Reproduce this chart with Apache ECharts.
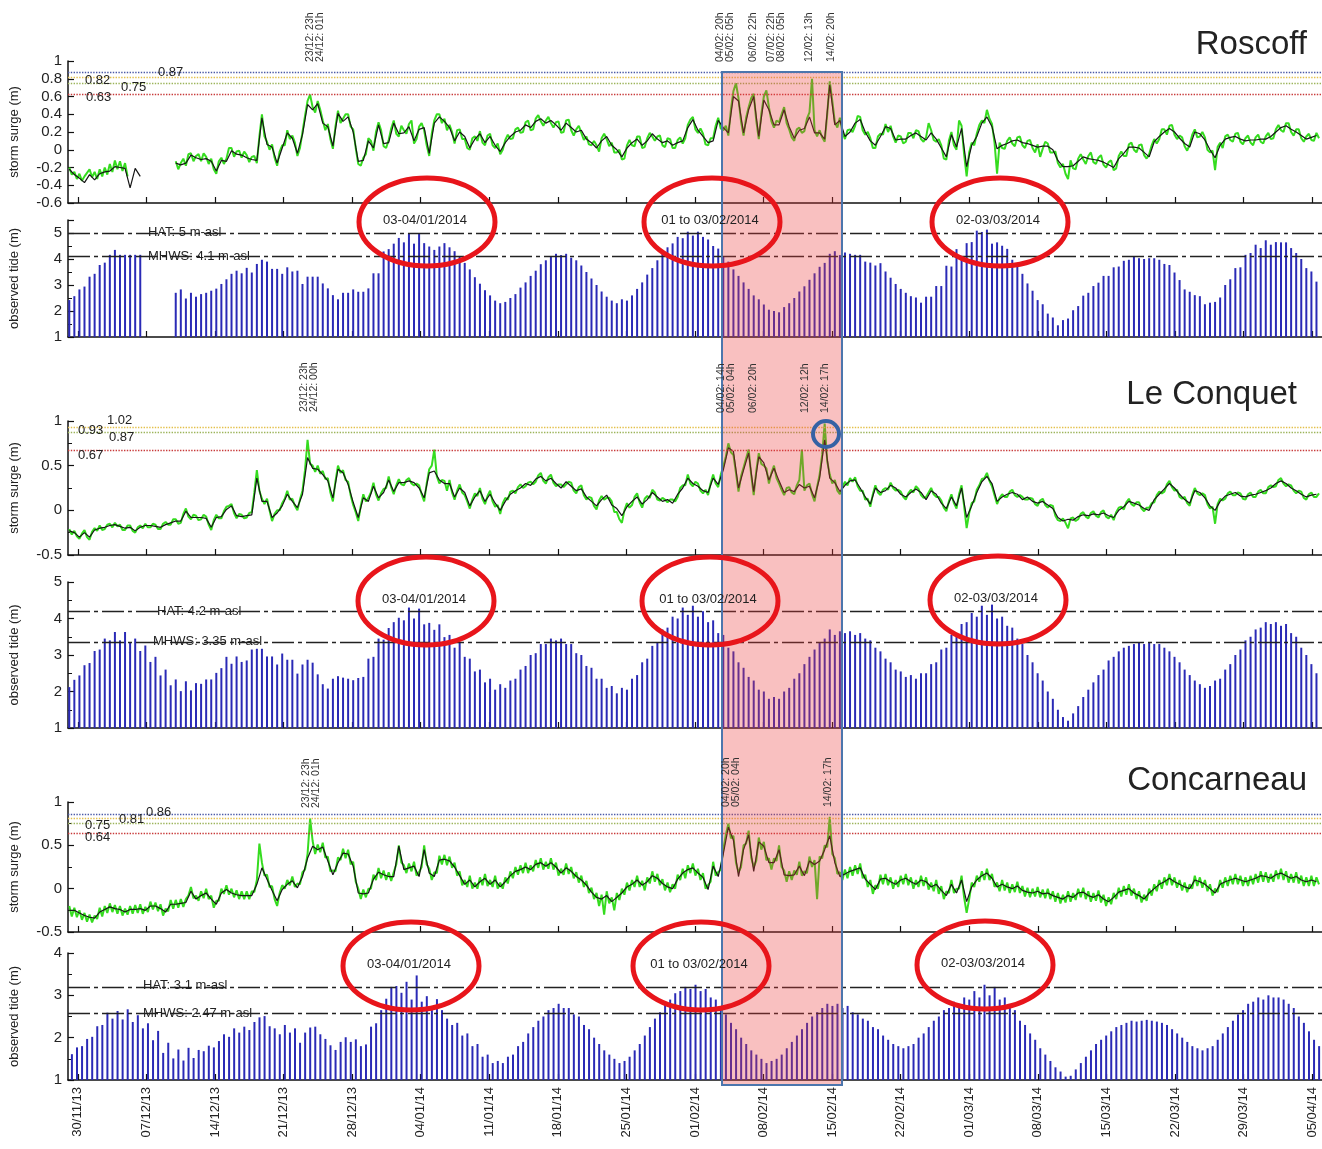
<!DOCTYPE html>
<html>
<head>
<meta charset="utf-8">
<title>Storm surge and observed tide - Roscoff, Le Conquet, Concarneau</title>
<script src="https://cdn.jsdelivr.net/npm/echarts@6/dist/echarts.min.js"></script>
<style>
  html, body { margin: 0; padding: 0; background: #fff; }
  #chart { width: 1322px; height: 1149px; }
</style>
</head>
<body>
<div id="chart"></div>
<script>
// days since 30/11/2013, one tick per week
var weekTicks = [0, 7, 14, 21, 28, 35, 42, 49, 56, 63, 70, 77, 84, 91, 98, 105, 112, 119, 126];
var tideStep = 0.5175;          // days between two high tides
var surgeStart = -0.87;         // day of first surge value
var tideStart = [-0.87, -0.87, -0.6];

// ---------- Roscoff ----------
var roscoffSurge = [-0.22,-0.28,-0.32,-0.37,-0.28,-0.34,-0.27,-0.25,-0.24,-0.19,-0.20,-0.21,-0.43,-0.21,-0.30,
null,null,null,null,null,null,
-0.15,-0.17,-0.15,-0.06,-0.09,-0.11,-0.10,-0.13,-0.24,-0.12,
-0.13,-0.01,-0.05,-0.06,-0.09,-0.11,-0.12,0.36,0.06,0.03,
-0.15,0.02,0.19,0.13,-0.04,0.17,0.51,0.45,0.52,0.30,
0.26,0.04,0.41,0.32,0.37,0.20,-0.13,-0.12,0.10,0.02,
0.28,0.07,0.08,0.30,0.18,0.19,0.26,0.10,0.23,0.25,
-0.04,0.30,0.37,0.32,0.25,0.10,0.20,0.15,0.02,0.12,
0.18,0.08,0.15,0.05,-0.02,0.08,0.15,0.20,0.22,0.28,
0.25,0.32,0.35,0.30,0.33,0.28,0.22,0.30,0.25,0.20,
0.22,0.12,0.08,0.02,0.10,0.15,0.05,0.00,-0.08,0.02,
0.08,0.12,0.05,0.10,0.18,0.12,0.08,0.10,0.05,0.08,
0.10,0.25,0.34,0.22,0.15,0.08,0.10,0.33,0.25,0.19,
0.60,0.55,0.19,0.45,0.60,0.15,0.56,0.45,0.28,0.28,
0.45,0.26,0.13,0.22,0.24,0.37,0.19,0.19,0.12,0.73,
0.28,0.33,0.15,0.20,0.30,0.34,0.20,0.10,0.05,0.15,
0.26,0.24,0.11,0.12,0.12,0.16,0.19,0.15,0.11,0.19,
0.12,0.02,-0.08,0.17,0.03,0.24,-0.19,0.05,0.15,0.30,
0.37,0.26,0.01,0.05,0.07,0.10,0.11,0.08,0.07,0.05,
0.03,0.04,0.04,0.00,-0.12,-0.19,-0.19,-0.18,-0.13,-0.08,
-0.10,-0.11,-0.12,-0.14,-0.17,-0.20,-0.10,-0.04,0.03,0.03,
0.02,-0.03,-0.08,0.09,0.15,0.20,0.24,0.20,0.13,0.07,
0.03,0.20,0.18,0.11,0.00,-0.09,0.05,0.12,0.14,0.15,
0.12,0.10,0.11,0.11,0.12,0.12,0.15,0.20,0.25,0.27,
0.23,0.20,0.16,0.12,0.14,0.16];

var roscoffSurgeRaw = [-0.20,-0.28,-0.25,-0.33,-0.27,-0.35,-0.30,-0.26,-0.22,-0.31,-0.25,-0.33,-0.22,-0.30,-0.20,-0.28,-0.16,-0.25,-0.12,-0.22,-0.13,-0.24,-0.15,-0.30,
null,null,null,null,null,null,null,null,null,null,null,null,null,null,null,null,null,null,
-0.13,-0.22,-0.15,-0.10,-0.18,-0.05,-0.04,-0.13,-0.07,-0.05,-0.13,-0.04,-0.08,-0.16,-0.10,-0.22,-0.27,-0.13,-0.09,-0.16,
-0.10,0.02,0.02,-0.08,-0.02,-0.01,-0.09,-0.02,-0.06,-0.14,-0.08,-0.07,-0.15,0.15,0.40,0.15,0.09,0.00,0.06,-0.09,
-0.18,-0.02,0.05,0.05,0.22,0.12,0.16,0.08,-0.07,0.02,0.20,0.38,0.55,0.62,0.48,0.42,0.55,0.45,0.33,0.22,
0.29,0.12,0.01,0.26,0.44,0.30,0.35,0.40,0.40,0.26,0.23,0.02,-0.16,-0.18,-0.09,-0.05,0.13,0.10,-0.01,0.20,
0.31,0.22,0.04,0.02,0.11,0.24,0.33,0.18,0.15,0.27,0.22,0.18,0.29,0.33,0.07,0.12,0.26,0.30,0.22,0.05,
-0.07,0.18,0.33,0.40,0.40,0.30,0.35,0.22,0.28,0.20,0.07,0.22,0.23,0.12,0.12,0.02,0.00,0.13,0.15,0.10,
0.21,0.08,0.05,0.16,0.18,0.05,0.02,0.07,-0.05,0.00,0.11,0.17,0.12,0.13,0.23,0.25,0.19,0.20,0.31,0.33,
0.22,0.23,0.35,0.39,0.32,0.27,0.33,0.37,0.30,0.25,0.31,0.32,0.19,0.20,0.33,0.34,0.22,0.16,0.23,0.27,
0.19,0.11,0.15,0.06,0.05,0.10,0.05,-0.02,0.13,0.18,0.12,0.04,0.08,-0.03,-0.03,0.00,-0.11,-0.10,0.05,0.11,
0.05,0.04,0.15,0.15,0.02,0.03,0.13,0.19,0.15,0.10,0.15,0.16,0.05,0.03,0.13,0.12,0.02,0.02,0.11,0.14,
0.07,0.13,0.28,0.34,0.37,0.23,0.19,0.24,0.18,0.06,0.05,0.13,0.13,0.27,0.36,0.24,0.22,0.27,0.16,0.45,
0.66,0.75,0.58,0.32,0.16,0.36,0.48,0.58,0.63,0.33,0.12,0.40,0.60,0.67,0.48,0.32,0.25,0.33,0.31,0.40,
0.48,0.30,0.23,0.14,0.10,0.23,0.25,0.19,0.21,0.35,0.42,0.80,0.22,0.15,0.22,0.14,0.09,0.40,0.77,0.55,
0.31,0.25,0.36,0.20,0.12,0.22,0.23,0.20,0.27,0.38,0.37,0.22,0.17,0.20,0.13,0.02,0.02,0.15,0.18,0.17,
0.29,0.20,0.27,0.15,0.08,0.16,0.15,0.07,0.09,0.19,0.19,0.13,0.22,0.21,0.12,0.09,0.14,0.30,0.22,0.11,
0.09,0.12,0.05,-0.10,-0.11,0.10,0.20,0.05,0.00,0.33,0.27,-0.05,-0.30,-0.03,0.08,0.05,0.18,0.28,0.33,0.30,
0.45,0.35,0.29,0.08,-0.27,0.08,0.02,0.01,0.10,0.14,0.07,0.04,0.14,0.15,0.05,0.02,0.10,0.11,0.02,-0.03,
0.06,-0.08,0.01,0.09,0.07,-0.03,-0.03,-0.02,-0.15,-0.20,-0.16,-0.27,-0.33,-0.12,-0.21,-0.22,-0.10,-0.05,-0.11,-0.16,
-0.07,-0.03,-0.14,-0.16,-0.09,-0.06,-0.17,-0.20,-0.14,-0.12,-0.23,-0.21,-0.07,-0.02,-0.07,-0.07,0.06,0.08,0.00,-0.03,
0.05,0.06,-0.06,-0.10,-0.05,0.05,0.12,0.07,0.12,0.23,0.23,0.17,0.27,0.28,0.17,0.12,0.16,0.14,0.04,-0.01,
0.06,0.17,0.23,0.14,0.15,0.20,0.14,0.00,-0.03,-0.01,-0.23,0.03,0.08,0.02,0.15,0.17,0.11,0.09,0.18,0.19,
0.09,0.06,0.13,0.16,0.08,0.05,0.14,0.17,0.09,0.07,0.15,0.19,0.12,0.13,0.23,0.28,0.22,0.20,0.30,0.30,
0.20,0.16,0.23,0.23,0.13,0.09,0.15,0.18,0.11,0.10,0.19,0.13];

var roscoffTide = [2.42,2.57,2.83,2.94,3.32,3.43,3.77,3.86,4.16,4.35,4.16,4.16,4.16,4.16,4.16,
null,null,null,null,null,null,
2.70,2.83,2.48,2.70,2.55,2.65,2.70,2.78,2.86,3.04,
3.22,3.43,3.55,3.45,3.66,3.48,3.81,3.97,3.90,3.62,
3.62,3.43,3.68,3.52,3.55,3.04,3.32,3.32,3.32,3.06,
2.87,2.61,2.45,2.70,2.70,2.83,2.74,2.74,2.87,3.45,
3.45,4.29,4.38,4.59,4.81,4.64,5.00,4.59,5.00,4.61,
4.48,4.35,4.48,4.61,
4.45,4.30,4.10,3.85,3.60,3.30,3.05,2.80,2.60,2.40,
2.30,2.35,2.50,2.65,2.90,3.10,3.35,3.55,3.80,3.95,
4.10,4.20,4.15,4.20,4.05,3.95,3.75,3.50,3.25,3.00,
2.75,2.55,2.40,2.30,2.45,2.40,2.60,2.85,3.10,3.40,
3.65,3.95,4.20,4.45,4.60,4.85,4.80,5.05,4.90,5.05,
4.85,4.75,4.50,4.40,4.10,3.90,3.60,3.35,3.10,2.85,
2.60,2.45,2.25,2.05,2.00,1.95,2.15,2.30,2.50,2.75,
2.95,3.20,3.45,3.70,3.85,4.20,4.30,4.15,4.25,4.20,
4.16,4.16,3.90,3.86,3.75,3.84,3.52,3.28,3.04,2.85,
2.70,2.57,2.52,2.32,2.55,2.55,2.96,2.96,3.74,3.71,
4.38,4.07,4.61,4.65,5.09,5.04,5.13,4.59,4.64,4.51,
4.39,3.97,3.74,3.43,3.06,2.78,2.42,2.26,1.90,1.75,
1.45,1.65,1.71,2.03,2.19,2.59,2.70,2.96,3.09,3.35,
3.35,3.68,3.71,3.93,3.97,4.10,4.03,4.00,4.03,4.03,
3.97,3.81,3.77,3.48,3.19,2.83,2.74,2.61,2.57,2.26,
2.32,2.35,2.52,3.00,3.22,3.65,3.68,4.16,4.23,4.55,
4.42,4.72,4.55,4.65,4.64,4.64,4.42,4.23,4.00,3.65,
3.52,3.13];

// ---------- Le Conquet ----------
var conquetSurge = [-0.23,-0.25,-0.30,-0.25,-0.30,-0.22,-0.20,-0.19,-0.17,-0.16,
-0.18,-0.20,-0.19,-0.23,-0.19,-0.17,-0.17,-0.18,-0.19,-0.16,
-0.14,-0.12,-0.12,-0.01,-0.08,-0.08,-0.08,-0.09,-0.19,-0.08,
-0.07,0.01,0.05,-0.06,-0.07,-0.06,-0.05,0.36,0.10,0.10,
-0.08,-0.03,0.05,0.18,0.10,0.03,0.18,0.59,0.47,0.46,
0.40,0.33,0.14,0.46,0.42,0.29,0.09,-0.08,0.14,0.10,
0.27,0.14,0.20,0.34,0.21,0.31,0.31,0.33,0.31,0.25,
0.14,0.42,0.44,0.34,0.30,
0.30,0.15,0.25,0.20,0.05,0.15,0.22,0.10,0.18,0.08,
0.00,0.10,0.18,0.22,0.25,0.30,0.28,0.35,0.38,0.33,
0.36,0.30,0.25,0.32,0.27,0.22,0.24,0.15,0.10,0.05,
0.12,0.17,0.06,0.02,-0.06,0.04,0.10,0.15,0.07,0.12,
0.20,0.15,0.10,0.12,0.08,0.18,
0.25,0.36,0.30,0.27,0.22,0.20,0.36,0.29,0.45,0.70,
0.66,0.25,0.45,0.64,0.21,0.60,0.53,0.34,0.47,0.33,
0.20,0.23,0.21,0.29,0.25,0.27,0.14,0.36,0.79,0.36,
0.31,0.21,0.28,0.33,0.34,0.25,0.15,0.07,0.25,0.20,
0.22,0.28,0.25,0.18,0.15,0.20,0.24,0.20,0.12,0.22,
0.18,0.08,0.02,0.15,0.05,0.25,-0.08,0.05,0.20,0.32,
0.38,0.30,0.10,0.15,0.18,0.20,0.18,0.12,0.15,0.10,
0.08,0.10,0.06,0.02,-0.08,-0.12,-0.10,-0.11,-0.07,-0.05,
-0.06,-0.04,-0.05,-0.03,-0.06,-0.08,0.00,0.04,0.10,0.08,
0.06,0.02,0.00,0.12,0.18,0.24,0.30,0.25,0.18,0.12,
0.08,0.22,0.20,0.14,0.05,0.00,0.10,0.16,0.18,0.20,
0.16,0.15,0.17,0.18,0.20,0.22,0.25,0.30,0.33,0.30,
0.25,0.22,0.18,0.15,0.17,0.18];

var conquetSurgeRaw = [-0.21,-0.27,-0.23,-0.29,-0.32,-0.26,-0.22,-0.30,-0.33,-0.24,-0.20,-0.23,-0.17,-0.22,-0.21,-0.16,-0.15,-0.19,-0.14,-0.18,
-0.16,-0.22,-0.22,-0.17,-0.17,-0.23,-0.25,-0.19,-0.17,-0.20,-0.15,-0.19,-0.19,-0.15,-0.16,-0.21,-0.21,-0.15,-0.13,-0.16,
-0.16,-0.10,-0.10,-0.15,-0.14,-0.04,0.02,-0.07,-0.10,-0.05,-0.06,-0.11,-0.10,-0.05,-0.07,-0.16,-0.22,-0.11,-0.05,-0.09,
-0.09,-0.01,0.04,0.05,0.07,-0.03,-0.09,-0.04,-0.05,-0.09,-0.08,-0.03,-0.02,0.20,0.45,0.22,0.13,0.07,0.13,0.00,
-0.12,-0.04,0.00,0.00,0.08,0.13,0.22,0.12,0.13,0.05,0.00,0.12,0.22,0.45,0.79,0.52,0.50,0.43,0.50,0.41,
0.44,0.35,0.36,0.20,0.10,0.32,0.50,0.42,0.45,0.34,0.32,0.17,0.06,-0.02,-0.12,0.05,0.18,0.10,0.14,0.20,
0.31,0.18,0.11,0.19,0.24,0.25,0.38,0.26,0.18,0.28,0.35,0.29,0.28,0.34,0.36,0.30,0.28,0.30,0.28,0.18,
0.10,0.30,0.46,0.50,0.68,0.38,0.30,0.34,0.33,0.22,0.34,0.20,0.12,0.22,0.29,0.20,0.17,0.10,0.02,0.12,
0.19,0.16,0.25,0.13,0.07,0.16,0.22,0.10,0.04,0.06,-0.04,0.08,0.14,0.12,0.21,0.22,0.19,0.26,0.29,0.25,
0.27,0.31,0.32,0.29,0.32,0.39,0.42,0.33,0.30,0.37,0.40,0.31,0.27,0.29,0.29,0.26,0.29,0.32,0.31,0.22,
0.19,0.26,0.28,0.17,0.12,0.15,0.14,0.05,0.01,0.11,0.16,0.12,0.14,0.14,0.10,-0.02,-0.02,-0.10,-0.14,0.00,
0.08,0.03,0.06,0.15,0.19,0.09,0.03,0.13,0.16,0.14,0.23,0.20,0.12,0.11,0.14,0.12,0.09,0.12,0.12,0.10,
0.15,0.25,0.28,0.28,0.40,0.30,0.27,0.32,0.30,0.22,0.19,0.23,0.17,0.30,0.40,0.30,0.26,0.40,0.49,0.60,
0.75,0.65,0.62,0.42,0.21,0.38,0.48,0.58,0.68,0.40,0.17,0.44,0.64,0.52,0.50,0.47,0.30,0.42,0.50,0.36,
0.30,0.23,0.17,0.25,0.26,0.20,0.18,0.28,0.34,0.68,0.22,0.28,0.30,0.18,0.10,0.26,0.40,0.62,0.97,0.55,
0.40,0.30,0.34,0.22,0.18,0.26,0.32,0.28,0.36,0.32,0.37,0.27,0.22,0.22,0.12,0.13,0.04,0.18,0.28,0.20,
0.17,0.23,0.25,0.23,0.31,0.25,0.22,0.23,0.21,0.15,0.12,0.19,0.23,0.20,0.27,0.24,0.17,0.14,0.15,0.20,
0.25,0.18,0.15,0.15,0.11,0.03,-0.01,0.10,0.18,0.08,0.02,0.18,0.28,0.05,-0.20,-0.03,0.08,0.10,0.23,0.28,
0.35,0.36,0.42,0.33,0.27,0.17,0.07,0.14,0.18,0.15,0.15,0.21,0.23,0.17,0.15,0.17,0.15,0.12,0.12,0.14,
0.13,0.07,0.05,0.11,0.13,0.06,0.03,0.06,0.05,-0.06,-0.11,-0.12,-0.09,-0.14,-0.20,-0.09,-0.08,-0.12,-0.10,-0.04,
-0.02,-0.07,-0.09,-0.03,-0.01,-0.06,-0.08,-0.02,0.00,-0.07,-0.09,-0.05,-0.11,-0.02,0.03,0.04,0.01,0.09,0.13,0.07,
0.05,0.09,0.09,0.02,-0.01,0.03,0.03,0.08,0.09,0.17,0.21,0.19,0.21,0.29,0.33,0.26,0.22,0.23,0.15,0.13,
0.15,0.08,0.05,0.17,0.25,0.19,0.17,0.19,0.17,0.07,0.02,0.04,-0.15,0.07,0.13,0.11,0.13,0.19,0.21,0.17,
0.17,0.20,0.19,0.13,0.12,0.18,0.20,0.15,0.15,0.21,0.23,0.19,0.19,0.26,0.28,0.26,0.27,0.34,0.36,0.30,
0.27,0.29,0.28,0.22,0.19,0.22,0.21,0.14,0.12,0.18,0.20,0.15,0.15,0.19];

var conquetTide = [2.12,2.32,2.44,2.72,2.78,3.11,3.15,3.45,3.40,3.63,
3.40,3.63,3.33,3.45,3.11,3.26,2.81,2.95,2.44,2.60,
2.17,2.33,2.01,2.28,2.03,2.23,2.21,2.33,2.33,2.51,
2.64,2.95,2.76,2.96,2.81,2.85,3.15,3.17,3.17,2.96,
2.96,2.74,3.04,2.87,2.87,2.49,2.74,2.87,2.79,2.47,
2.20,2.08,2.35,2.42,2.38,2.35,2.31,2.37,2.40,2.90,
2.95,3.45,3.42,3.74,3.90,4.02,3.95,4.30,4.00,4.27,
3.84,3.88,3.69,3.84,3.49,
3.55,3.20,3.35,2.95,2.90,2.55,2.60,2.25,2.35,2.05,
2.20,2.10,2.30,2.35,2.60,2.70,3.00,3.05,3.30,3.30,
3.45,3.40,3.45,3.30,3.30,3.05,3.00,2.70,2.65,2.35,
2.35,2.10,2.15,1.95,2.10,2.05,2.35,2.45,2.80,2.90,
3.25,3.35,3.70,3.75,4.05,4.00,4.30,4.10,4.35,4.05,
4.20,3.90,3.95,3.60,3.55,3.20,3.10,2.80,2.65,2.40,
2.30,2.05,2.00,1.80,1.85,1.80,2.00,2.10,2.35,2.50,
2.75,2.95,3.15,3.35,3.45,3.70,3.55,3.65,3.60,3.65,
3.55,3.60,3.45,3.40,3.20,3.10,2.90,2.80,2.60,2.55,
2.40,2.45,2.35,2.50,2.50,2.75,2.80,3.15,3.20,3.55,
3.60,3.85,3.90,4.15,4.05,4.35,4.10,4.38,4.00,4.05,
3.80,3.75,3.45,3.30,3.00,2.80,2.50,2.30,2.00,1.80,
1.50,1.30,1.20,1.40,1.60,1.85,2.05,2.25,2.45,2.60,
2.85,2.95,3.10,3.20,3.25,3.30,3.35,3.30,3.35,3.30,
3.30,3.20,3.10,2.95,2.80,2.60,2.45,2.30,2.20,2.10,
2.15,2.30,2.35,2.60,2.75,3.00,3.15,3.40,3.50,3.70,
3.75,3.90,3.85,3.90,3.80,3.85,3.60,3.50,3.20,3.00,
2.75,2.50];

// ---------- Concarneau ----------
var concarneauSurge = [-0.25,-0.25,-0.28,-0.31,-0.33,-0.34,-0.27,-0.24,-0.21,-0.23,
-0.24,-0.27,-0.24,-0.24,-0.23,-0.25,-0.20,-0.20,-0.23,-0.27,
-0.18,-0.18,-0.17,-0.16,-0.03,-0.12,-0.08,-0.05,-0.12,-0.18,
-0.05,-0.01,-0.05,-0.07,-0.08,-0.08,-0.08,0.05,0.24,0.11,
-0.02,-0.14,-0.01,0.05,0.09,0.01,0.14,0.35,0.49,0.45,
0.48,0.32,0.16,0.30,0.41,0.40,0.26,-0.05,-0.06,-0.05,
0.11,0.19,0.16,0.14,0.14,0.49,0.22,0.24,0.26,0.14,
0.45,0.18,0.14,0.33,0.34,0.32,
0.25,0.15,0.05,0.10,0.02,0.08,0.12,0.05,0.10,0.02,
0.08,0.15,0.20,0.22,0.25,0.22,0.28,0.30,0.26,0.30,
0.25,0.18,0.24,0.20,0.14,0.10,0.04,-0.04,-0.10,
-0.12,-0.08,-0.15,-0.10,-0.05,0.02,0.05,0.10,0.04,0.08,
0.15,0.12,0.06,0.02,0.00,0.11,
0.18,0.22,0.24,0.18,0.13,-0.01,0.26,0.14,0.40,0.71,
0.56,0.14,0.45,0.62,0.20,0.54,0.49,0.30,0.30,0.45,
0.16,0.15,0.16,0.26,0.15,0.32,0.28,0.32,0.45,0.61,
0.30,0.14,0.17,0.20,0.22,0.24,0.11,0.05,-0.01,0.11,
0.12,0.08,0.05,0.10,0.12,0.08,0.05,0.10,0.08,0.02,
0.05,-0.02,-0.08,0.05,-0.05,0.10,-0.15,0.02,0.10,0.15,
0.18,0.12,0.02,0.05,0.02,0.00,0.03,-0.02,-0.04,-0.05,
-0.03,-0.06,-0.05,-0.08,-0.10,-0.12,-0.08,-0.10,-0.05,-0.04,
-0.08,-0.10,-0.07,-0.12,-0.15,-0.10,-0.04,-0.02,0.00,-0.05,
-0.08,-0.12,-0.05,0.00,0.05,0.08,0.12,0.08,0.05,0.02,
0.00,0.10,0.08,0.05,0.00,-0.05,0.05,0.08,0.10,0.12,
0.10,0.08,0.10,0.12,0.15,0.14,0.12,0.16,0.18,0.15,
0.12,0.14,0.10,0.08,0.10,0.08];

var concarneauSurgeRaw = [-0.20,-0.32,-0.22,-0.33,-0.25,-0.36,-0.28,-0.38,-0.30,-0.39,-0.31,-0.35,-0.22,-0.32,-0.20,-0.28,-0.17,-0.27,-0.19,-0.29,
-0.20,-0.31,-0.23,-0.30,-0.20,-0.29,-0.19,-0.28,-0.18,-0.29,-0.21,-0.27,-0.15,-0.24,-0.16,-0.26,-0.18,-0.31,-0.23,-0.26,
-0.13,-0.23,-0.13,-0.22,-0.12,-0.21,-0.12,-0.08,0.02,-0.11,-0.08,-0.14,-0.03,-0.11,0.00,-0.12,-0.08,-0.22,-0.14,-0.14,
0.00,-0.06,0.04,-0.07,0.00,-0.10,-0.02,-0.12,-0.03,-0.12,-0.03,-0.12,-0.03,-0.04,0.10,0.52,0.30,0.15,0.16,0.02,
0.03,-0.12,-0.20,-0.05,0.04,0.00,0.10,0.04,0.14,0.02,0.06,0.05,0.19,0.22,0.40,0.81,0.55,0.40,0.51,0.42,
0.53,0.36,0.37,0.20,0.21,0.20,0.36,0.33,0.46,0.35,0.45,0.28,0.31,0.08,0.00,-0.12,-0.01,-0.10,0.00,0.00,
0.16,0.10,0.24,0.12,0.21,0.10,0.19,0.09,0.19,0.28,0.50,0.30,0.27,0.18,0.29,0.20,0.31,0.15,0.19,0.25,
0.50,0.28,0.23,0.10,0.19,0.18,0.38,0.28,0.39,0.27,0.37,0.24,0.30,0.15,0.20,0.04,0.10,0.02,0.15,0.00,
0.07,0.00,0.13,0.04,0.17,0.03,0.10,0.02,0.15,0.00,0.07,0.00,0.13,0.06,0.20,0.12,0.25,0.16,0.27,0.18,
0.30,0.18,0.27,0.20,0.33,0.24,0.35,0.22,0.31,0.23,0.35,0.22,0.30,0.15,0.23,0.16,0.29,0.17,0.25,0.12,
0.19,0.07,0.15,0.02,0.09,-0.05,0.01,-0.12,-0.05,-0.20,-0.07,-0.30,-0.03,-0.17,-0.10,-0.25,-0.05,-0.13,0.00,-0.07,
0.07,-0.02,0.10,0.02,0.15,0.02,0.09,-0.02,0.13,0.06,0.20,0.08,0.17,0.04,0.11,-0.02,0.07,-0.04,0.05,0.00,
0.16,0.10,0.23,0.12,0.27,0.18,0.29,0.15,0.23,0.10,0.18,0.00,0.04,0.08,0.31,0.15,0.19,0.22,0.45,0.62,
0.75,0.58,0.61,0.30,0.19,0.25,0.50,0.52,0.67,0.36,0.25,0.32,0.59,0.45,0.54,0.33,0.35,0.22,0.35,0.32,
0.50,0.25,0.21,0.08,0.20,0.10,0.21,0.16,0.31,0.15,0.20,0.18,0.37,0.25,0.33,-0.12,0.37,0.35,0.50,0.48,
0.83,0.40,0.35,0.17,0.19,0.10,0.22,0.12,0.25,0.15,0.27,0.17,0.29,0.12,0.16,0.02,0.10,-0.06,0.04,0.00,
0.16,0.05,0.17,0.04,0.13,0.00,0.10,0.02,0.15,0.05,0.17,0.04,0.13,0.00,0.10,0.02,0.15,0.03,0.13,-0.01,
0.07,-0.03,0.10,-0.06,0.03,-0.12,-0.03,-0.05,0.10,-0.05,0.00,0.00,0.15,-0.10,-0.28,-0.12,0.07,0.02,0.15,0.08,
0.20,0.10,0.23,0.10,0.17,0.02,0.07,-0.03,0.10,-0.02,0.07,-0.05,0.05,-0.04,0.08,-0.05,0.03,-0.09,0.01,-0.10,
0.00,-0.09,0.02,-0.10,-0.01,-0.11,0.00,-0.12,-0.03,-0.15,-0.05,-0.17,-0.07,-0.16,-0.03,-0.15,-0.05,-0.13,0.00,-0.10,
0.01,-0.12,-0.03,-0.15,-0.05,-0.14,-0.02,-0.16,-0.07,-0.20,-0.10,-0.18,-0.05,-0.12,0.01,-0.09,0.03,-0.07,0.05,-0.08,
0.00,-0.12,-0.03,-0.16,-0.07,-0.14,0.00,-0.08,0.05,-0.03,0.10,0.00,0.13,0.04,0.17,0.04,0.13,0.01,0.10,-0.02,
0.07,-0.04,0.05,0.00,0.15,0.03,0.13,0.01,0.10,-0.03,0.05,-0.08,0.00,-0.04,0.10,0.01,0.13,0.03,0.15,0.05,
0.17,0.05,0.15,0.03,0.13,0.03,0.15,0.05,0.17,0.07,0.20,0.08,0.19,0.07,0.17,0.08,0.21,0.11,0.23,0.10,
0.20,0.07,0.17,0.07,0.19,0.06,0.15,0.03,0.13,0.03,0.15,0.03,0.13,0.05];

var concarneauTide = [1.61,1.77,1.80,1.97,2.02,2.27,2.30,2.59,2.45,2.63,
2.43,2.67,2.37,2.53,2.22,2.34,1.94,2.16,1.64,1.88,
1.51,1.72,1.46,1.76,1.52,1.71,1.68,1.81,1.77,1.92,
2.08,2.02,2.22,2.12,2.26,2.18,2.37,2.48,2.51,2.27,
2.22,2.08,2.30,2.12,2.22,1.88,2.12,2.24,2.26,2.08,
1.97,1.82,1.71,1.90,2.01,1.90,1.96,1.80,1.84,2.26,
2.34,2.65,2.92,3.20,3.22,3.06,3.32,2.90,3.47,2.85,
2.98,2.65,2.91,2.65,2.45,
2.30,2.35,2.05,2.10,1.80,1.85,1.55,1.60,1.40,1.45,
1.40,1.55,1.60,1.80,1.90,2.10,2.25,2.40,2.50,2.65,
2.70,2.80,2.70,2.70,2.55,2.50,2.30,2.20,2.00,1.85,
1.70,1.60,1.50,1.40,1.45,1.55,1.70,1.85,2.05,2.25,
2.45,2.60,2.80,2.90,3.05,3.10,3.20,3.15,3.25,3.10,
3.15,2.95,2.90,2.70,2.55,2.35,2.20,2.00,1.85,1.70,
1.60,1.50,1.40,1.45,1.50,1.60,1.75,1.90,2.05,2.20,
2.35,2.50,2.60,2.70,2.80,2.75,2.80,2.70,2.75,2.60,
2.55,2.45,2.40,2.25,2.20,2.05,1.95,1.85,1.80,1.75,
1.80,1.85,2.00,2.10,2.25,2.40,2.50,2.65,2.70,2.85,
2.80,2.95,2.90,3.10,2.95,3.25,3.00,3.20,2.90,2.95,
2.70,2.65,2.40,2.30,2.10,1.95,1.75,1.60,1.45,1.30,
1.20,1.08,1.10,1.25,1.40,1.55,1.70,1.85,1.95,2.05,
2.15,2.25,2.30,2.35,2.40,2.38,2.40,2.42,2.40,2.38,
2.35,2.30,2.20,2.10,2.00,1.90,1.80,1.75,1.70,1.75,
1.80,1.95,2.10,2.25,2.40,2.55,2.65,2.80,2.85,2.95,
2.90,3.00,2.95,2.95,2.90,2.80,2.70,2.50,2.35,2.15,
1.95,1.80];

// thresholds (dotted lines) and reference levels
var stationNames = ['Roscoff', 'Le Conquet', 'Concarneau'];
var surgeThresholds = [[0.87, 0.82, 0.75, 0.63], [1.02, 0.93, 0.87, 0.67], [0.86, 0.81, 0.75, 0.64]];
var thresholdColors = ['#4b5aa6', '#e3c04a', '#9cb45a', '#c83a3a'];
var hatLevel = [5, 4.2, 3.2];
var mhwsLevel = [4.12, 3.35, 2.57];
var hatText = ['HAT: 5 m-asl', 'HAT: 4.2 m-asl', 'HAT: 3.1 m-asl'];
var mhwsText = ['MHWS: 4.1 m-asl', 'MHWS: 3.35 m-asl', 'MHWS: 2.47 m-asl'];

var surgeSeries = [roscoffSurge, conquetSurge, concarneauSurge];
var surgeRawSeries = [roscoffSurgeRaw, conquetSurgeRaw, concarneauSurgeRaw];
var tideSeries = [roscoffTide, conquetTide, concarneauTide];

function toPoints(start, step, values) {
  return values.map(function (v, i) {
    return [+(start + i * step).toFixed(4), v];
  });
}

function pad(n) { return n < 10 ? '0' + n : '' + n; }
function dayLabel(d) {
  var dt = new Date(2013, 10, 30 + d);
  return pad(dt.getDate()) + '/' + pad(dt.getMonth() + 1) + '/' + String(dt.getFullYear()).slice(2);
}

var FONT = '"Liberation Sans", Arial, sans-serif';
var chart = echarts.init(document.getElementById('chart'));

// panel layout: surge, tide, surge, tide, surge, tide
var panelTop = [61, 220, 421, 582, 802, 953];
var panelHeight = [142, 117, 134, 146, 130, 127];
var yMin = [-0.6, 1, -0.5, 1, -0.5, 1];
var yMax = [1, 5.5, 1, 5, 1, 4];
var yStep = [0.2, 1, 0.5, 1, 0.5, 1];

var grids = [], xAxes = [], yAxes = [], series = [];
for (var p = 0; p < 6; p++) {
  grids.push({ left: 67, width: 1255, top: panelTop[p], height: panelHeight[p] });
  xAxes.push({
    type: 'value', gridIndex: p, min: -1, max: 127,
    axisLine: { onZero: false, lineStyle: { color: '#111', width: 1.5 } },
    axisTick: { inside: true, length: 6, customValues: weekTicks, lineStyle: { color: '#111', width: 1.2 } },
    axisLabel: {
      show: p === 5, customValues: weekTicks, rotate: 90, margin: 7,
      fontSize: 13, color: '#222', fontFamily: FONT,
      formatter: function (v) { return dayLabel(v); }
    },
    splitLine: { show: false }
  });
  var isTide = p % 2 === 1;
  yAxes.push({
    type: 'value', gridIndex: p, min: yMin[p], max: yMax[p], interval: yStep[p],
    name: isTide ? 'observed tide (m)' : 'storm surge (m)',
    nameLocation: 'middle', nameGap: 47,
    nameTextStyle: { fontSize: 13, color: '#222', fontFamily: FONT },
    axisLine: { show: true, onZero: false, lineStyle: { color: '#111', width: 1.5 } },
    axisTick: { inside: true, length: 6, lineStyle: { color: '#111', width: 1.2 } },
    minorTick: { show: p !== 0, splitNumber: 2, length: 4, lineStyle: { color: '#111' } },
    axisLabel: {
      fontSize: 15, color: '#222', fontFamily: FONT, margin: 6,
      formatter: isTide ? function (v) { return v % 1 === 0 ? String(v) : ''; } : function (v) { return String(+v.toFixed(2)); }
    },
    splitLine: { show: false }
  });
}

for (var k = 0; k < 3; k++) {
  var sIdx = 2 * k, tIdx = 2 * k + 1;
  series.push({
    name: stationNames[k] + ' surge (raw)', type: 'line',
    xAxisIndex: sIdx, yAxisIndex: sIdx,
    data: toPoints(surgeStart, tideStep / 2, surgeRawSeries[k]),
    showSymbol: false, symbol: 'none', z: 2,
    lineStyle: { color: '#35dc1f', width: 2 }
  });
  series.push({
    name: stationNames[k] + ' surge', type: 'line',
    xAxisIndex: sIdx, yAxisIndex: sIdx,
    data: toPoints(surgeStart, tideStep, surgeSeries[k]),
    showSymbol: false, symbol: 'none', z: 3,
    lineStyle: { color: '#151515', width: 1.2 },
    markLine: {
      silent: true, symbol: ['none', 'none'], label: { show: false }, animation: false,
      data: surgeThresholds[k].map(function (v, j) {
        return { yAxis: v, lineStyle: { color: thresholdColors[j], type: 'dotted', width: 1.4 } };
      })
    }
  });
  series.push({
    name: stationNames[k] + ' tide', type: 'bar',
    xAxisIndex: tIdx, yAxisIndex: tIdx,
    data: toPoints(tideStart[k], tideStep, tideSeries[k]),
    barWidth: 2, z: 2,
    itemStyle: { color: '#2a2ab6' },
    markLine: {
      silent: true, symbol: ['none', 'none'], label: { show: false }, animation: false,
      lineStyle: { color: '#222', type: [22, 4, 4, 4], width: 1.3 },
      data: [{ yAxis: hatLevel[k] }, { yAxis: mhwsLevel[k] }]
    }
  });
}

// ---------- annotations ----------
var g = [];
function txt(x, y, s, size, align, vAlign) {
  return {
    type: 'text', x: x, y: y, z: 60,
    style: { text: s, font: size + 'px ' + FONT, fill: '#222', textAlign: align || 'left', textVerticalAlign: vAlign || 'middle' }
  };
}

// station titles
g.push(txt(1307, 45, 'Roscoff', 33, 'right'));
g.push(txt(1297, 395, 'Le Conquet', 33, 'right'));
g.push(txt(1307, 781, 'Concarneau', 33, 'right'));

// threshold values
var thresholdLabels = [
  ['0.87', 158, 72], ['0.82', 85, 80], ['0.75', 121, 87], ['0.63', 86, 97],
  ['1.02', 107, 420], ['0.93', 78, 430], ['0.87', 109, 437], ['0.67', 78, 455],
  ['0.86', 146, 812], ['0.81', 119, 819], ['0.75', 85, 825], ['0.64', 85, 837]
];
thresholdLabels.forEach(function (t) { g.push(txt(t[1], t[2], t[0], 13)); });

// HAT / MHWS labels
var levelLabelPos = [[148, 232, 148, 256], [157, 611, 153, 641], [143, 985, 143, 1013]];
for (var s = 0; s < 3; s++) {
  g.push(txt(levelLabelPos[s][0], levelLabelPos[s][1], hatText[s], 13));
  g.push(txt(levelLabelPos[s][2], levelLabelPos[s][3], mhwsText[s], 13));
}

// vertical date/time labels of surge peaks
var peakLabels = [
  [305, 62, '23/12: 23h\n24/12: 01h'], [715, 62, '04/02: 20h\n05/02: 05h'], [748, 62, '06/02: 22h'],
  [766, 62, '07/02: 22h\n08/02: 05h'], [804, 62, '12/02: 13h'], [826, 62, '14/02: 20h'],
  [299, 412, '23/12: 23h\n24/12: 00h'], [716, 413, '04/02: 14h\n05/02: 04h'], [748, 413, '06/02: 20h'],
  [800, 413, '12/02: 12h'], [820, 413, '14/02: 17h'],
  [301, 808, '23/12: 23h\n24/12: 01h'], [721, 807, '04/02: 20h\n05/02: 04h'], [823, 807, '14/02: 17h']
];
peakLabels.forEach(function (t) {
  g.push({
    type: 'text', x: t[0], y: t[1], rotation: Math.PI / 2, z: 60,
    style: { text: t[2], font: '10.5px ' + FONT, fill: '#333', textAlign: 'left', textVerticalAlign: 'top', lineHeight: 10 }
  });
});

// highlighted storm period
g.push({
  type: 'rect', z: 50, shape: { x: 722, y: 72, width: 120, height: 1013 },
  style: { fill: 'rgba(235,60,60,0.32)', stroke: '#4c76ad', lineWidth: 2 }
});

// red ellipses around spring tides
var ellipses = [
  [427, 222, '03-04/01/2014'], [712, 222, '01 to 03/02/2014'], [1000, 222, '02-03/03/2014'],
  [426, 601, '03-04/01/2014'], [710, 601, '01 to 03/02/2014'], [998, 600, '02-03/03/2014'],
  [411, 966, '03-04/01/2014'], [701, 966, '01 to 03/02/2014'], [985, 965, '02-03/03/2014']
];
ellipses.forEach(function (e) {
  g.push({
    type: 'ellipse', z: 55, shape: { cx: e[0], cy: e[1], rx: 68, ry: 44 },
    style: { fill: 'none', stroke: '#e8151b', lineWidth: 5 }
  });
  g.push(txt(e[0] - 2, e[1] - 2, e[2], 13, 'center'));
});

// blue circle on the Le Conquet peak
g.push({
  type: 'circle', z: 56, shape: { cx: 826, cy: 434, r: 13 },
  style: { fill: 'none', stroke: '#3562a4', lineWidth: 4 }
});

chart.setOption({
  animation: false,
  backgroundColor: '#fff',
  grid: grids,
  xAxis: xAxes,
  yAxis: yAxes,
  series: series,
  graphic: { elements: g }
});
</script>
</body>
</html>
